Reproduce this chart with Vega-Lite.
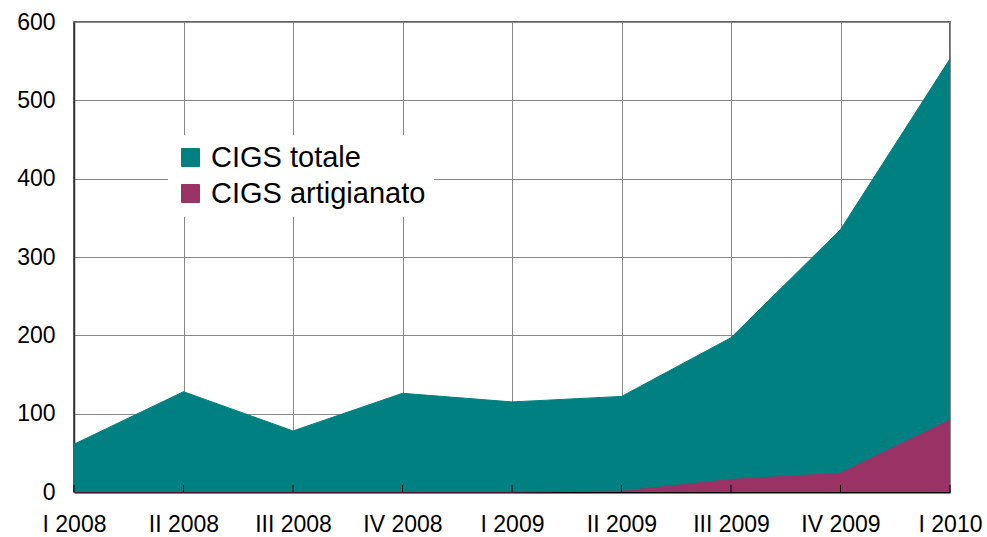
{
  "$schema": "https://vega.github.io/schema/vega-lite/v6.json",
  "width": 876,
  "height": 470,
  "autosize": {"type": "none"},
  "padding": {"left": 74, "top": 22, "right": 37, "bottom": 45},
  "background": "white",
  "config": {
    "font": "Liberation Sans",
    "view": {"stroke": "#333333", "strokeWidth": 1.5}
  },
  "data": {
    "values": [
      {"q": "I 2008", "s": "CIGS totale", "v": 61},
      {"q": "II 2008", "s": "CIGS totale", "v": 128},
      {"q": "III 2008", "s": "CIGS totale", "v": 78},
      {"q": "IV 2008", "s": "CIGS totale", "v": 126},
      {"q": "I 2009", "s": "CIGS totale", "v": 115},
      {"q": "II 2009", "s": "CIGS totale", "v": 122},
      {"q": "III 2009", "s": "CIGS totale", "v": 197},
      {"q": "IV 2009", "s": "CIGS totale", "v": 335},
      {"q": "I 2010", "s": "CIGS totale", "v": 553},
      {"q": "I 2008", "s": "CIGS artigianato", "v": 0},
      {"q": "II 2008", "s": "CIGS artigianato", "v": 0},
      {"q": "III 2008", "s": "CIGS artigianato", "v": 0},
      {"q": "IV 2008", "s": "CIGS artigianato", "v": 0},
      {"q": "I 2009", "s": "CIGS artigianato", "v": 0},
      {"q": "II 2009", "s": "CIGS artigianato", "v": 1},
      {"q": "III 2009", "s": "CIGS artigianato", "v": 16},
      {"q": "IV 2009", "s": "CIGS artigianato", "v": 24},
      {"q": "I 2010", "s": "CIGS artigianato", "v": 92}
    ]
  },
  "encoding": {
    "x": {
      "field": "q",
      "type": "ordinal",
      "sort": null,
      "scale": {"type": "point", "padding": 0},
      "axis": {
        "title": null,
        "labelAngle": 0,
        "labelFontSize": 23,
        "labelColor": "black",
        "labelPadding": 21,
        "labelOverlap": false,
        "domainColor": "black",
        "domainWidth": 2,
        "ticks": false,
        "tickSize": 0,
        "grid": true,
        "gridColor": "#888888",
        "gridWidth": 1,
        "zindex": 0
      }
    },
    "y": {
      "field": "v",
      "type": "quantitative",
      "scale": {"domain": [0, 600], "nice": false},
      "axis": {
        "title": null,
        "values": [0, 100, 200, 300, 400, 500, 600],
        "labelFontSize": 23,
        "labelColor": "black",
        "labelPadding": 19,
        "ticks": false,
        "domainColor": "#333333",
        "domainWidth": 1.5,
        "grid": true,
        "gridColor": "#888888",
        "gridWidth": 1,
        "zindex": 0
      }
    }
  },
  "layer": [
    {
      "transform": [{"filter": "datum.s === 'CIGS totale'"}],
      "mark": {"type": "area", "opacity": 1, "line": {"color": "black", "strokeWidth": 1}},
      "encoding": {
        "color": {
          "field": "s",
          "type": "nominal",
          "scale": {
            "domain": ["CIGS totale", "CIGS artigianato"],
            "range": ["#008080", "#993366"]
          },
          "legend": {
            "title": null,
            "orient": "none",
            "legendX": 94,
            "legendY": 113,
            "fillColor": "white",
            "padding": 8,
            "labelFontSize": 29,
            "labelColor": "black",
            "labelLimit": 400,
            "symbolType": "square",
            "symbolSize": 324,
            "symbolStrokeColor": "black",
            "symbolStrokeWidth": 1,
            "symbolOpacity": 1,
            "rowPadding": 6,
            "labelOffset": 6
          }
        }
      }
    },
    {
      "transform": [{"filter": "datum.s === 'CIGS artigianato'"}],
      "mark": {"type": "area", "opacity": 1, "line": {"color": "black", "strokeWidth": 1}},
      "encoding": {
        "color": {"field": "s", "type": "nominal"}
      }
    },
    {
      "transform": [{"filter": "datum.s === 'CIGS totale'"}],
      "mark": {"type": "rule", "color": "black", "strokeWidth": 1},
      "encoding": {
        "y": {"datum": 0},
        "y2": {"datum": 9}
      }
    }
  ]
}
